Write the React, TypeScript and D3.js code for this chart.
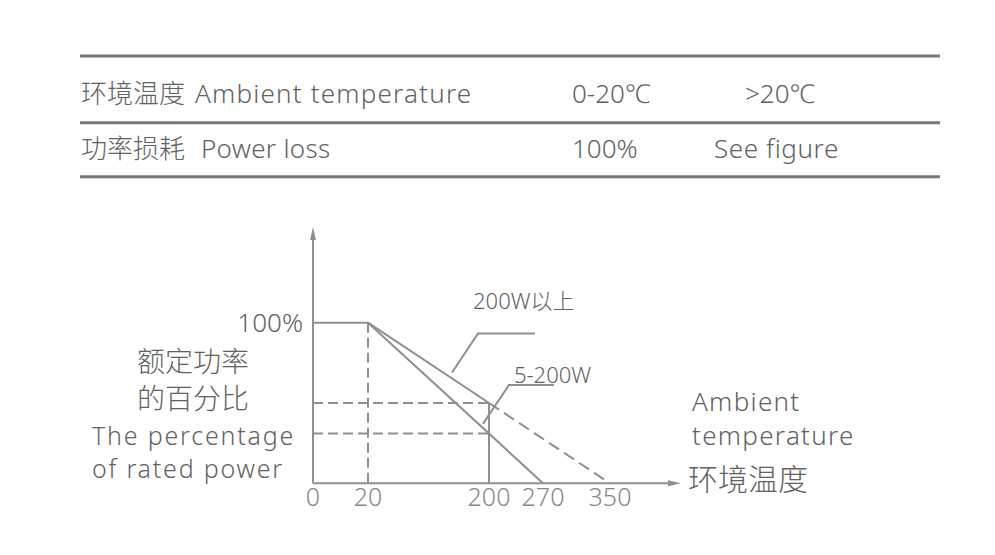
import React from 'react';
import * as d3 from 'd3';

// table rows
const tableHeadCn = ['环境温度', '功率损耗'];
const tableHeadEn = ['Ambient temperature', 'Power loss'];
const tableColA = ['0-20℃', '100%'];
const tableColB = ['>20℃', 'See figure'];

// chart data (temperature in ℃, power in %)
const tempTicks = [0, 20, 200, 270, 350];
const flatPart = [{ t: 0, p: 100 }, { t: 20, p: 100 }];
const highPowerSolid = [{ t: 20, p: 100 }, { t: 200, p: 50 }];
const highPowerDashed = [{ t: 200, p: 50 }, { t: 350, p: 0 }];
const lowPowerSolid = [{ t: 20, p: 100 }, { t: 200, p: 31 }, { t: 270, p: 0 }];
const guideLevels = [50, 31];
const annotations = [
  { label: '200W以上', t: 145, p: 69 },
  { label: '5-200W', t: 191, p: 37 },
];

const W = 995;
const H = 555;
const TEXT = '#626262';
const LINE = '#8f8f8f';
const RULE = '#777777';
const FONT = '"Noto Sans", "Noto Sans CJK SC", sans-serif';
const CJK = '"Noto Sans CJK SC", "Noto Sans", sans-serif';

type Pt = { t: number; p: number };

const App: React.FC = () => {
  // schematic axis: ticks are not evenly spaced in the drawing
  const x = d3.scaleLinear().domain(tempTicks).range([313, 368, 489, 543, 610]);
  const y = d3.scaleLinear().domain([0, 100]).range([483.3, 322.7]);

  const line = d3.line<Pt>().x(d => x(d.t)).y(d => y(d.p));

  const rules = [56, 122.7, 176.7];
  const rowBase = [103, 158];

  const yTop = 227;
  const xEnd = 681;

  return (
    <svg width={W} height={H} style={{ position: 'absolute', left: 0, top: 0, background: '#fff' }}>
      {/* table */}
      {rules.map((r, i) => (
        <line key={i} x1={80} x2={940} y1={r} y2={r} stroke={RULE} strokeWidth={3} />
      ))}
      {rowBase.map((b, i) => (
        <g key={i} fill={TEXT} fontSize={26} fontWeight={300}>
          <text x={81} y={b} fontFamily={CJK}>{tableHeadCn[i]}</text>
          <text x={i === 0 ? 195 : 201} y={b} fontFamily={FONT} letterSpacing={i === 0 ? 1.2 : 0.3}>{tableHeadEn[i]}</text>
          <text x={572} y={b} fontFamily={FONT}>{tableColA[i]}</text>
          <text x={i === 0 ? 745 : 714} y={b} fontFamily={FONT} letterSpacing={i === 0 ? 0 : 0.6}>{tableColB[i]}</text>
        </g>
      ))}

      {/* guides */}
      <g stroke={LINE} strokeWidth={2} fill="none">
        <line x1={x(20)} x2={x(20)} y1={y(100)} y2={y(0)} strokeDasharray="10 5" />
        {guideLevels.map(g => (
          <line key={g} x1={x(0)} x2={x(200)} y1={y(g)} y2={y(g)} strokeDasharray="10 5" />
        ))}
        <line x1={x(200)} x2={x(200)} y1={y(50)} y2={y(0)} />
        <path d={line(flatPart) || ''} />
        <path d={line(highPowerSolid) || ''} />
        <path d={line(highPowerDashed) || ''} strokeDasharray="12 6" />
        <path d={line(lowPowerSolid) || ''} />
      </g>

      {/* axes */}
      <g stroke={LINE} strokeWidth={2}>
        <line x1={x(0)} x2={x(0)} y1={y(0)} y2={yTop + 8} />
        <line x1={x(0)} x2={xEnd - 8} y1={y(0)} y2={y(0)} />
      </g>
      <path d={`M${x(0)},${yTop} L${x(0) + 3},${yTop + 13} L${x(0) - 3},${yTop + 13} Z`} fill={LINE} />
      <path d={`M${xEnd},${y(0)} L${xEnd - 13},${y(0) - 3} L${xEnd - 13},${y(0) + 3} Z`} fill={LINE} />

      {/* x ticks */}
      {tempTicks.map(t => (
        <text key={t} x={x(t)} y={506} textAnchor="middle" fontSize={25} fontWeight={300} fontFamily={FONT} fill="#888">
          {t}
        </text>
      ))}

      {/* annotations */}
      {annotations.map(a => {
        const ax = x(a.t);
        const ay = y(a.p);
        const kx = ax + 26;
        const ky = ay - 39;
        const ex = kx + (a.label === '5-200W' ? 45 : 57);
        return (
          <g key={a.label}>
            <path d={`M${ax},${ay} L${kx},${ky} L${ex},${ky}`} fill="none" stroke={LINE} strokeWidth={2} />
            <text
              x={a.label === '5-200W' ? kx + 5 : kx - 5}
              y={a.label === '5-200W' ? ky - 2 : ky - 24}
              fontSize={22}
              fontWeight={300}
              fontFamily={FONT}
              fill={TEXT}
            >
              {a.label}
            </text>
          </g>
        );
      })}

      {/* y labels */}
      <text x={303} y={332} textAnchor="end" fontSize={26} fontWeight={300} fontFamily={FONT} fill={TEXT}>100%</text>
      <g fill={TEXT} fontFamily={CJK} fontSize={28} fontWeight={300} textAnchor="middle">
        <text x={193} y={372}>额定功率</text>
        <text x={193} y={409}>的百分比</text>
      </g>
      <g fill={TEXT} fontFamily={FONT} fontSize={25} fontWeight={300} letterSpacing={1.8}>
        <text x={92} y={445}>The percentage</text>
        <text x={92} y={478}>of rated power</text>
      </g>

      {/* x labels */}
      <g fill={TEXT} fontFamily={FONT} fontSize={26} fontWeight={300} letterSpacing={1.3}>
        <text x={692} y={411}>Ambient</text>
        <text x={692} y={445}>temperature</text>
      </g>
      <text x={688} y={490} fill={TEXT} fontFamily={CJK} fontSize={30} fontWeight={300}>环境温度</text>
    </svg>
  );
};

export default App;
